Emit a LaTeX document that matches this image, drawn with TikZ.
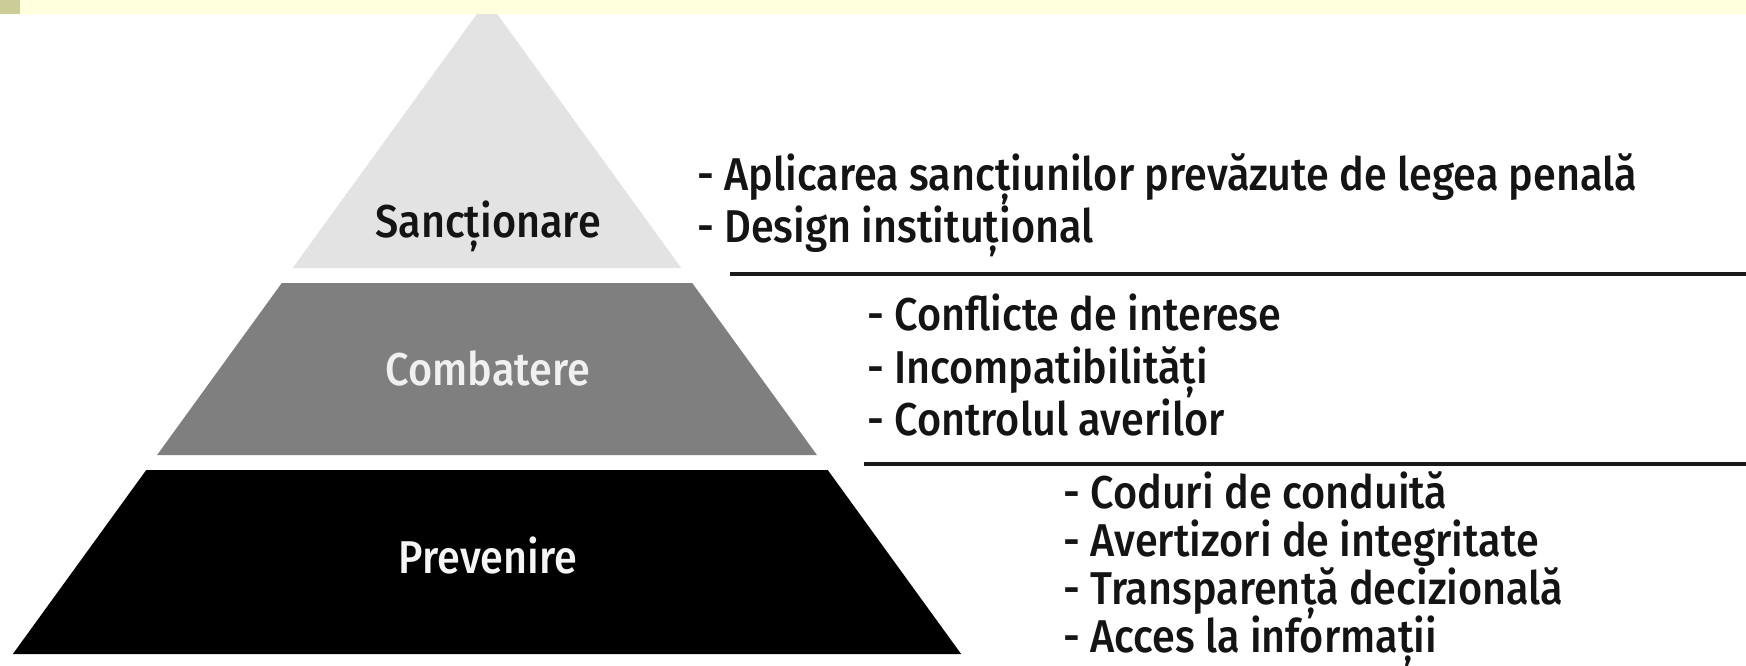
\documentclass[tikz,border=0pt]{standalone}
\usepackage{fontspec}
\IfFontExistsTF{Fira Sans Medium}{\setmainfont{Fira Sans Medium}[FakeStretch=0.9]}{\setmainfont{Fira Sans}[FakeStretch=0.9]}
\definecolor{bandc}{HTML}{FFFFDD}
\definecolor{olivec}{HTML}{CCCC99}
\definecolor{lay1}{HTML}{E3E3E3}
\definecolor{lay2}{HTML}{7F7F7F}
\definecolor{lay3}{HTML}{000000}
\definecolor{txtc}{HTML}{141414}
\definecolor{rulec}{HTML}{1A1A1A}
\newcommand{\itemfont}{\fontsize{46}{52}\selectfont}
\tikzset{
  itemtxt/.style={anchor=base west, inner sep=0pt, font=\itemfont, text=txtc},
  laylbl/.style={anchor=base, inner sep=0pt, font=\itemfont},
  rulerline/.style={draw=rulec, line width=4pt},
}
\begin{document}
\begin{tikzpicture}[x=1pt,y=-1pt]
\useasboundingbox (0,0) rectangle (1746,665);
\fill[white] (0,0) rectangle (1746,665);
% pyramid
\fill[lay1] (487,0) -- (681.3,268) -- (292.7,268) -- cycle;
\fill[lay2] (281.8,283) -- (692.2,283) -- (816.9,455) -- (157.1,455) -- cycle;
\fill[lay3] (146.25,470) -- (827.75,470) -- (961.15,654) -- (12.85,654) -- cycle;
% top band
\fill[bandc] (0,0) rectangle (1746,14);
\fill[olivec] (0,0) rectangle (20,14);
% layer labels
\node[laylbl, text=txtc] (lsanc) at (488,237) {Sancționare};
\node[laylbl, text={white!94!black}] (lcomb) at (488,385) {Combatere};
\node[laylbl, text={white!96!black}] (lprev) at (488,573) {Prevenire};
% rules
\coordinate (r1a) at (730,274);
\coordinate (r1b) at (1746,274);
\coordinate (r2a) at (864,464);
\coordinate (r2b) at (1746,464);
\draw[rulerline] (r1a) -- (r1b);
\draw[rulerline] (r2a) -- (r2b);
% items
\node[itemtxt] (s1) at (697,190) {- Aplicarea sancțiunilor prevăzute de legea penală};
\node[itemtxt] (s2) at (697,242) {- Design instituțional};
\node[itemtxt] (c1) at (867,330) {- Conflicte de interese};
\node[itemtxt] (c2) at (867,383) {- Incompatibilități};
\node[itemtxt] (c3) at (867,435) {- Controlul averilor};
\node[itemtxt] (p1) at (1063,508) {- Coduri de conduită};
\node[itemtxt] (p2) at (1063,556) {- Avertizori de integritate};
\node[itemtxt] (p3) at (1063,604) {- Transparență decizională};
\node[itemtxt] (p4) at (1063,652) {- Acces la informații};
\end{tikzpicture}
\end{document}
